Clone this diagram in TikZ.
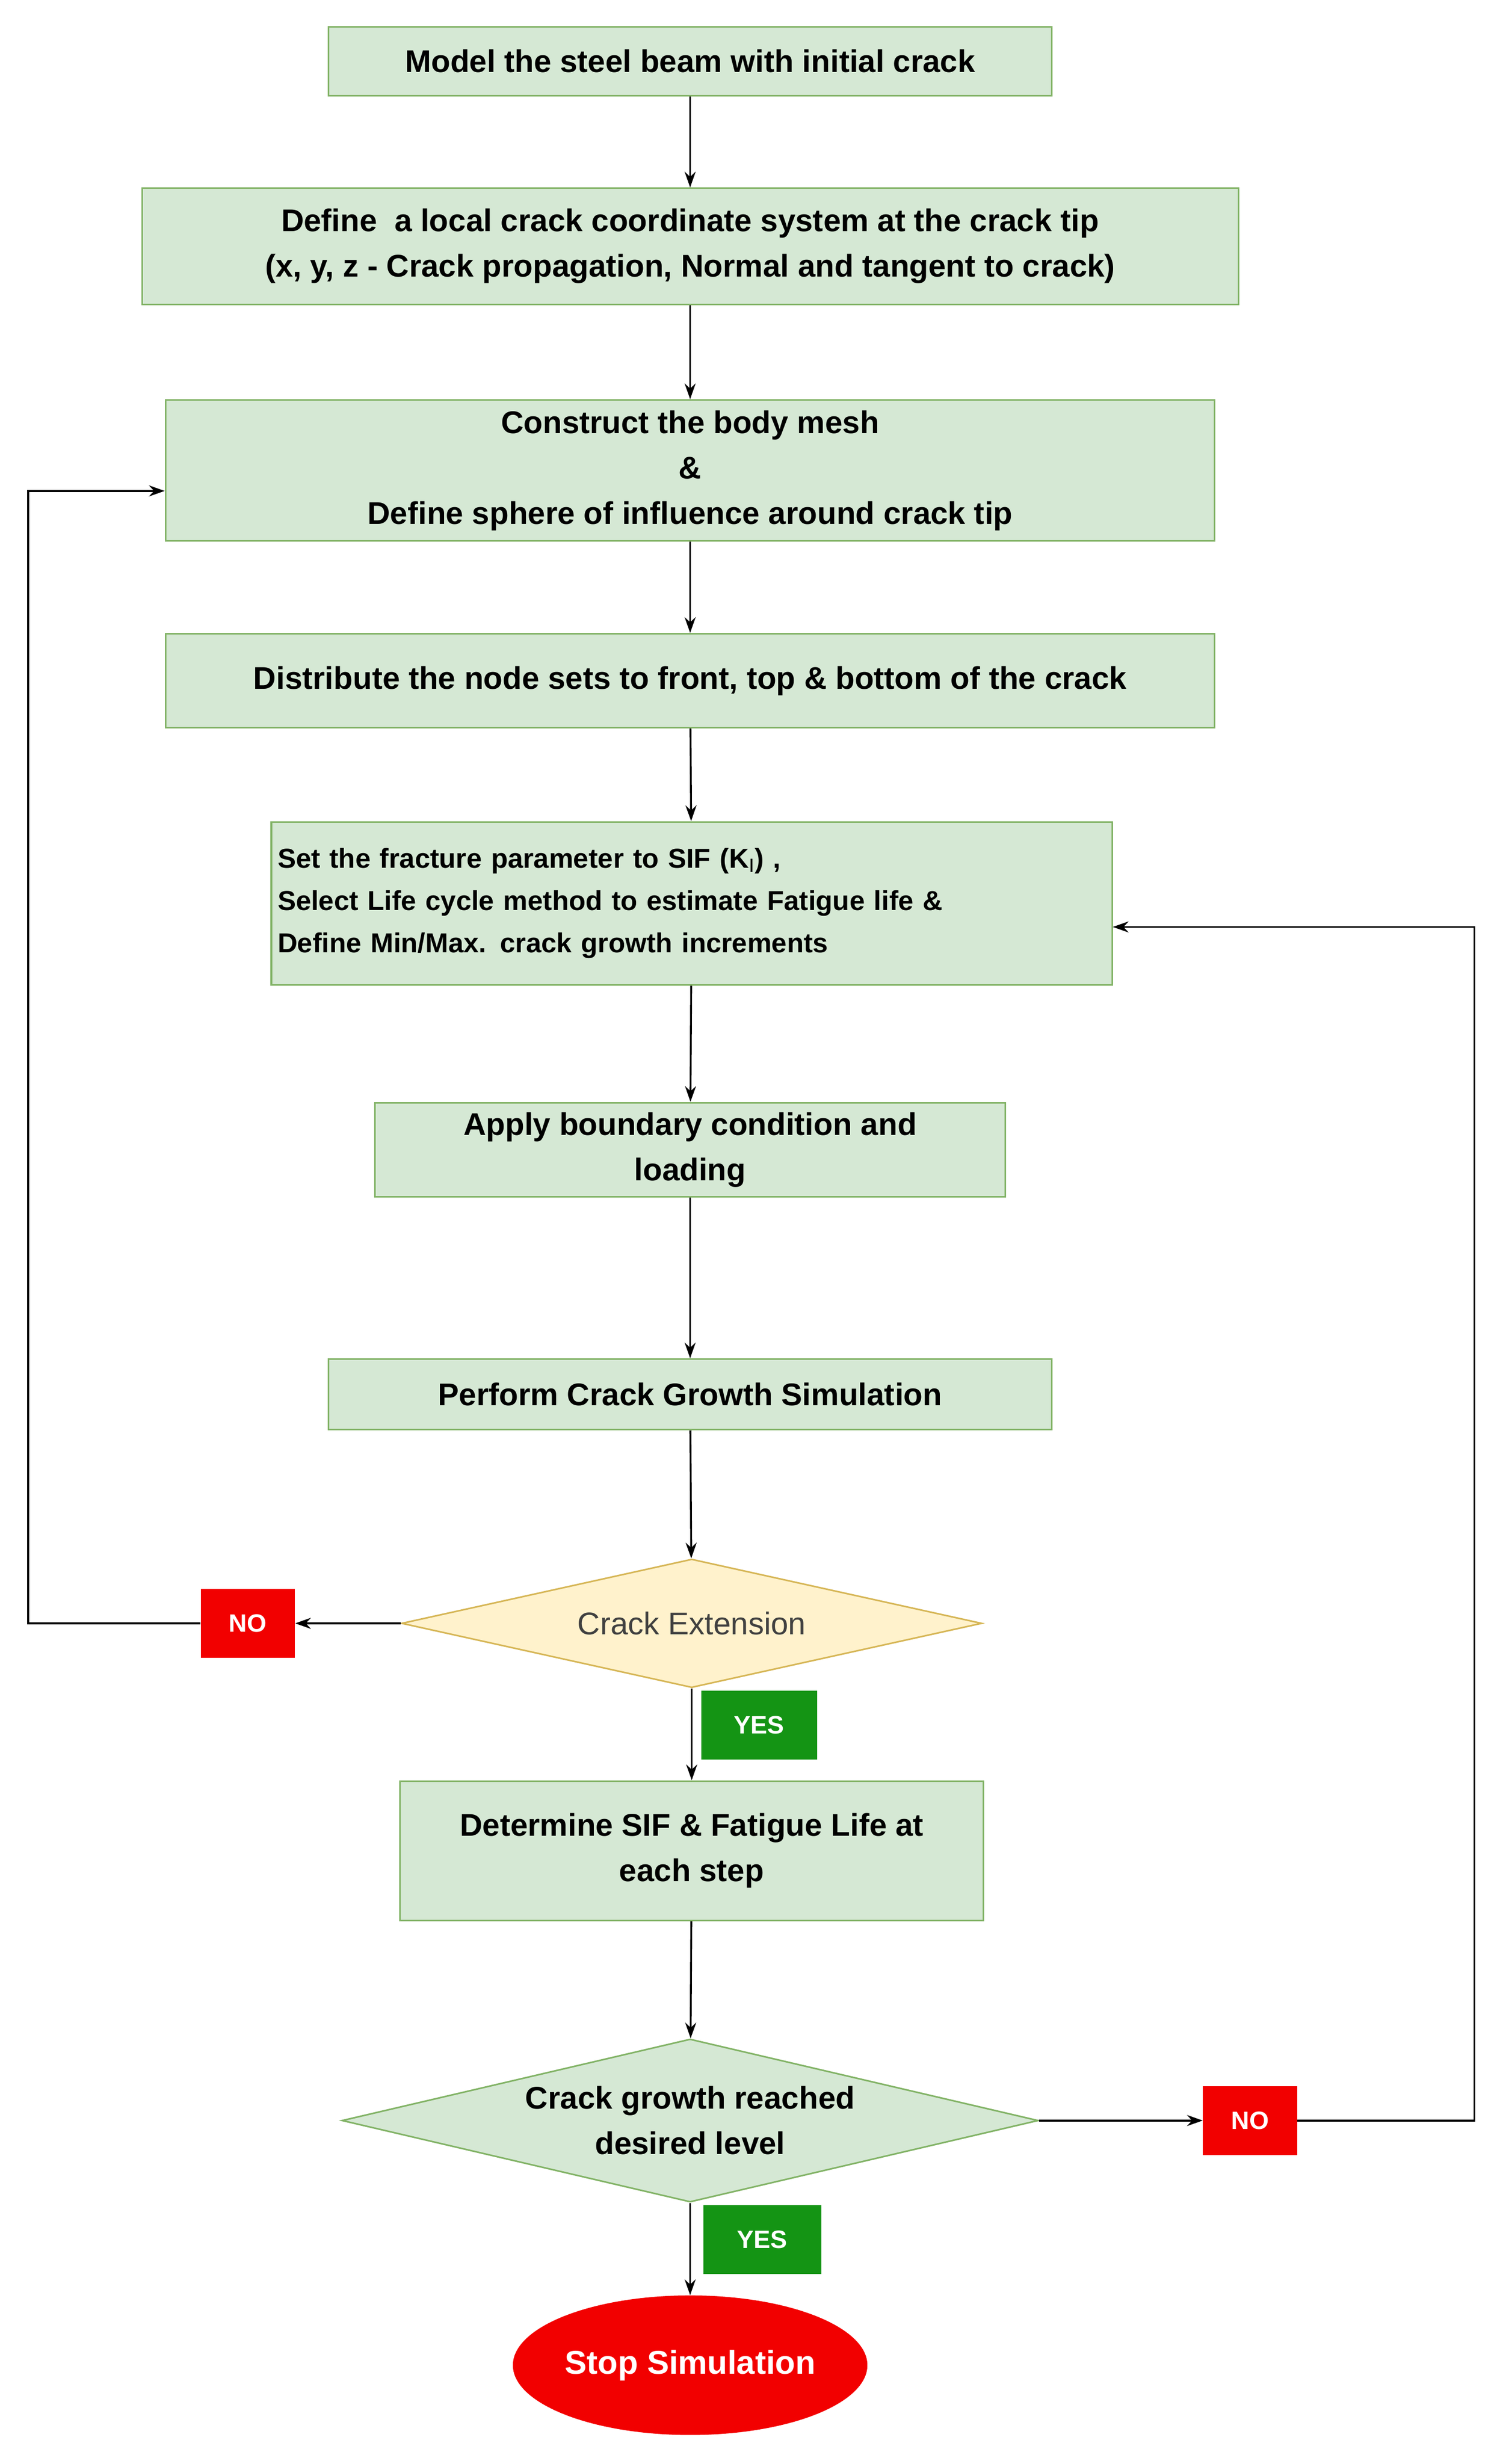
\documentclass[tikz,border=0pt]{standalone}
\usepackage{fontspec}
\setmainfont{Liberation Sans}
\usetikzlibrary{shapes.geometric,arrows.meta}
\definecolor{gfill}{HTML}{D5E8D4}
\definecolor{gline}{HTML}{82B366}
\definecolor{yfill}{HTML}{FFF2CC}
\definecolor{yline}{HTML}{D6B656}
\definecolor{redb}{HTML}{F20000}
\definecolor{greenb}{HTML}{149414}
\begin{document}
\begin{tikzpicture}[x=1pt,y=-1pt,
  box/.style={draw=gline,fill=gfill,line width=1pt,align=center,inner sep=0pt,
    font=\fontsize{20}{29}\selectfont\bfseries},
  dia/.style={diamond,draw=gline,fill=gfill,line width=1pt,inner sep=0pt},
  tag/.style={fill=#1,text=white,minimum width=60pt,minimum height=44pt,inner sep=0pt,
    font=\fontsize{16}{18}\selectfont\bfseries},
  arr/.style={-{Stealth[length=10pt,width=7pt]},line width=1.2pt}]
\useasboundingbox (0,0) rectangle (960,1571);
\node[box,minimum width=461pt,minimum height=44pt] (n1) at (440,39) {Model the steel beam with initial crack};
\node[box,minimum width=699pt,minimum height=74pt] (n2) at (440,157) {Define\ \ a local crack coordinate system at the crack tip\\(x, y, z - Crack propagation, Normal and tangent to crack)};
\node[box,minimum width=669pt,minimum height=90pt] (n3) at (440,300) {Construct the body mesh\\\&\\Define sphere of influence around crack tip};
\node[box,minimum width=669pt,minimum height=60pt] (n4) at (440,434) {Distribute the node sets to front, top \& bottom of the crack};
\node[box,minimum width=536pt,minimum height=104pt,align=left,text width=528pt,
  font=\fontsize{17.5}{27}\selectfont\bfseries] (n5) at (441,576)
  {Set the fracture parameter to SIF (K$_{\mathrm{I}}$) ,\\Select Life cycle method to estimate Fatigue life \&\\Define Min/Max. crack growth increments};
\node[box,minimum width=402pt,minimum height=60pt] (n6) at (440,733) {Apply boundary condition and\\loading};
\node[box,minimum width=461pt,minimum height=45pt] (n7) at (440,889) {Perform Crack Growth Simulation};
\node[dia,draw=yline,fill=yfill,minimum width=370pt,minimum height=82pt] (d1) at (441,1035) {};
\node[font=\fontsize{20}{24}\selectfont,text=black!75] at (d1) {Crack Extension};
\node[tag=redb] (no1) at (158,1035) {NO};
\node[tag=greenb,minimum width=74pt] (yes1) at (484,1100) {YES};
\node[box,minimum width=372pt,minimum height=89pt] (n8) at (441,1180) {Determine SIF \& Fatigue Life at\\each step};
\node[dia,minimum width=444pt,minimum height=104pt] (d2) at (440,1352) {};
\node[align=center,font=\fontsize{20}{29}\selectfont\bfseries] at (d2) {Crack growth reached\\desired level};
\node[tag=redb] (no2) at (797,1352) {NO};
\node[tag=greenb,minimum width=75pt] (yes2) at (486,1428) {YES};
\node[ellipse,fill=redb,text=white,minimum width=225pt,minimum height=89pt,inner sep=0pt,
  font=\fontsize{21}{24}\selectfont\bfseries] (stop) at (440,1508) {Stop Simulation};
\coordinate (c1) at (18,1035);
\coordinate (c2) at (18,313);
\coordinate (c3) at (940,1352);
\coordinate (c4) at (940,591);
\draw[arr] (n1) -- (n2);
\draw[arr] (n2) -- (n3);
\draw[arr] (n3) -- (n4);
\draw[arr] (n4) -- (n5);
\draw[arr] (n5) -- (n6);
\draw[arr] (n6) -- (n7);
\draw[arr] (n7) -- (d1);
\draw[arr] (d1) -- (n8);
\draw[arr] (n8) -- (d2);
\draw[arr] (d2) -- (stop);
\draw[arr] (d1) -- (no1);
\draw[arr] (no1) -- (c1) -- (c2) -- (n3.west |- c2);
\draw[arr] (d2) -- (no2);
\draw[arr] (no2) -- (c3) -- (c4) -- (n5.east |- c4);
\end{tikzpicture}
\end{document}
